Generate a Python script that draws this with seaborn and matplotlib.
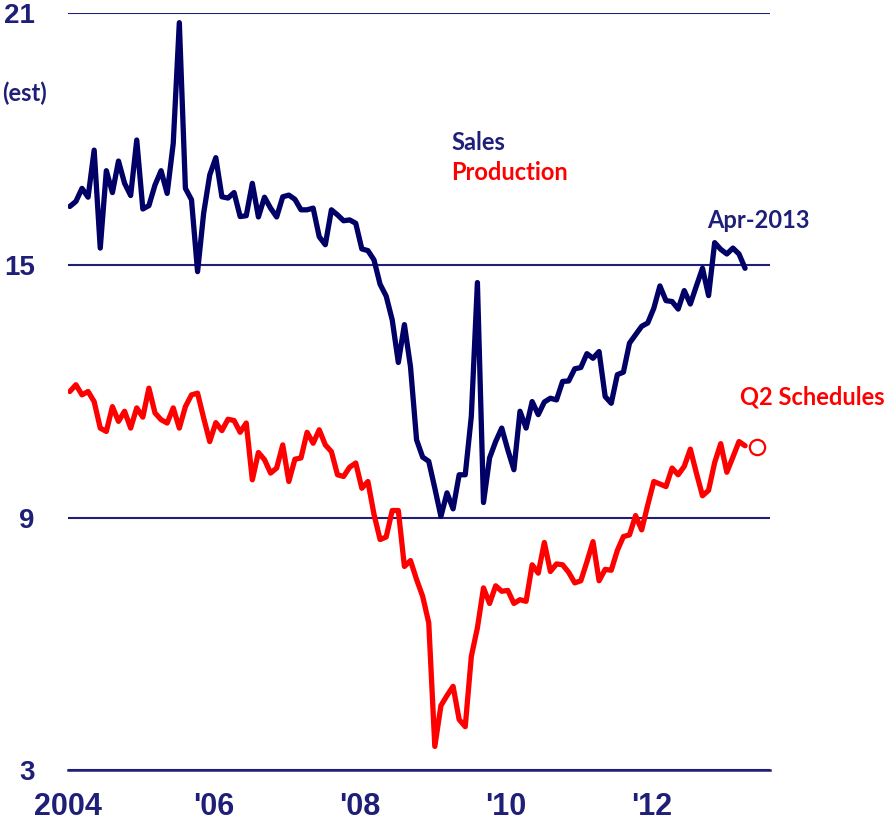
import numpy as np
import pandas as pd
import matplotlib
matplotlib.use("Agg")
import matplotlib.pyplot as plt
import seaborn as sns

# monthly SAAR, millions of units, Jan-2004 .. Apr-2013
sales = [16.40, 16.52, 16.83, 16.62, 17.74, 15.41, 17.25, 16.73, 17.48, 16.95, 16.66, 17.98,
         16.34, 16.42, 16.91, 17.25, 16.71, 17.90, 20.77, 16.83, 16.56, 14.85, 16.24, 17.15,
         17.56, 16.63, 16.60, 16.73, 16.16, 16.18, 16.95, 16.15, 16.62, 16.36, 16.15, 16.63,
         16.67, 16.57, 16.32, 16.32, 16.36, 15.68, 15.49, 16.32, 16.20, 16.06, 16.08, 16.00,
         15.39, 15.35, 15.13, 14.55, 14.27, 13.70, 12.69, 13.59, 12.59, 10.85, 10.44, 10.34,
         9.70, 9.03, 9.59, 9.21, 10.02, 10.02, 11.41, 14.59, 9.36, 10.42, 10.81, 11.13,
         10.61, 10.14, 11.53, 11.13, 11.76, 11.45, 11.75, 11.84, 11.80, 12.24, 12.25, 12.54,
         12.57, 12.90, 12.79, 12.95, 11.88, 11.72, 12.40, 12.46, 13.15, 13.35, 13.55, 13.63,
         13.98, 14.51, 14.16, 14.14, 13.96, 14.40, 14.08, 14.51, 14.93, 14.28, 15.54, 15.38,
         15.27, 15.41, 15.27, 14.93]

production = [12.00, 12.16, 11.92, 12.00, 11.76, 11.13, 11.05, 11.64, 11.29, 11.53, 11.13, 11.61,
              11.39, 12.08, 11.49, 11.33, 11.25, 11.61, 11.13, 11.64, 11.92, 11.96, 11.37, 10.81,
              11.26, 11.07, 11.34, 11.31, 11.03, 11.25, 9.90, 10.55, 10.38, 10.06, 10.18, 10.73,
              9.86, 10.39, 10.42, 11.03, 10.77, 11.09, 10.73, 10.57, 10.02, 9.98, 10.20, 10.30,
              9.70, 9.86, 9.08, 8.48, 8.54, 9.17, 9.17, 7.84, 7.98, 7.53, 7.13, 6.50,
              3.56, 4.53, 4.77, 4.99, 4.20, 4.03, 5.70, 6.38, 7.33, 6.96, 7.38, 7.25,
              7.27, 6.96, 7.05, 7.01, 7.88, 7.68, 8.41, 7.72, 7.90, 7.88, 7.70, 7.45,
              7.50, 7.95, 8.43, 7.50, 7.77, 7.75, 8.22, 8.55, 8.59, 9.05, 8.71, 9.30,
              9.86, 9.80, 9.74, 10.18, 10.02, 10.22, 10.63, 10.06, 9.52, 9.65, 10.31, 10.76,
              10.08, 10.44, 10.81, 10.71]

q2_month = 113          # months after Jan-2004
q2_schedule = 10.68

year_ticks = [2004, 2006, 2008, 2010, 2012]
year_labels = ["2004", "'06", "'08", "'10", "'12"]
y_ticks = [3, 9, 15, 21]

NAVY = "#000066"
TXT = "#1f1f78"
RED = "#ff0000"

months = np.arange(len(sales))
df = pd.DataFrame({
    "date": 2004 + (months + 0.3) / 12,
    "Sales": sales,
    "Production": production,
})
long = df.melt(id_vars="date", var_name="series", value_name="units")

sns.set_style("white")
plt.rcParams["font.family"] = ["Liberation Sans", "DejaVu Sans"]

fig = plt.figure(figsize=(8.93, 8.25), dpi=100)
ax = fig.add_axes([68 / 893, 55 / 825, 702 / 893, 757 / 825])

sns.lineplot(data=long, x="date", y="units", hue="series",
             palette={"Sales": NAVY, "Production": RED},
             linewidth=3.8, legend=False, ax=ax)
ax.plot(2004 + (q2_month + 0.3) / 12, q2_schedule, "o", mfc="white",
        mec=RED, mew=1.6, ms=11, clip_on=False)

ax.set_xlim(2004, 2004 + 702 / 73)
ax.set_ylim(3, 21)
ax.set_xlabel("")
ax.set_ylabel("")

ax.set_yticks(y_ticks)
ax.set_yticklabels([str(v) for v in y_ticks], fontsize=20, fontweight="bold", color=TXT)
ax.yaxis.grid(True, color=TXT, linewidth=1.5)
ax.tick_params(axis="y", length=0, pad=24)

ax.set_xticks(year_ticks)
ax.set_xticklabels(year_labels, fontsize=22, fontweight="bold", color=TXT)
ax.tick_params(axis="x", direction="out", length=6, width=1.5, color=TXT, pad=10)

for s in ["top", "right", "left"]:
    ax.spines[s].set_visible(False)
ax.spines["bottom"].set_color(TXT)
ax.spines["bottom"].set_linewidth(1.8)

lbl = dict(fontweight="bold", family=["Lato", "DejaVu Sans"], transform=fig.transFigure)
fig.text(2 / 893, 1 - 93 / 825, "(est)", fontsize=17, color=TXT, va="center", ha="left", **lbl)
fig.text(451 / 893, 1 - 142 / 825, "Sales", fontsize=17, color=TXT, va="center", ha="left", **lbl)
fig.text(451 / 893, 1 - 173 / 825, "Production", fontsize=17, color=RED, va="center", ha="left", **lbl)
fig.text(707 / 893, 1 - 221 / 825, "Apr-2013", fontsize=17, color=TXT, va="center", ha="left", **lbl)
fig.text(740 / 893, 1 - 397 / 825, "Q2 Schedules", fontsize=17, color=RED, va="center", ha="left", **lbl)

fig.savefig("out.png", dpi=100)
